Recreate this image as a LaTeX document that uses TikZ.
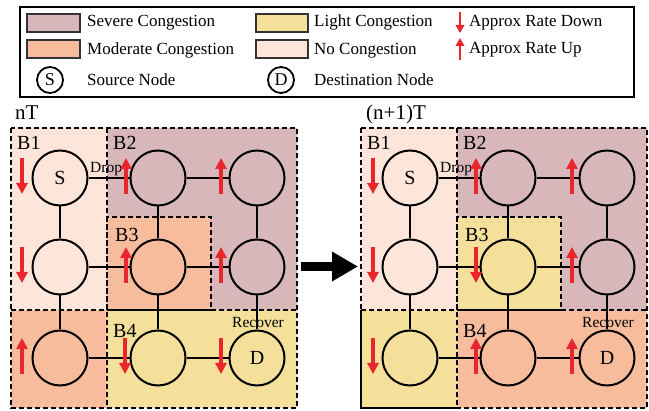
\documentclass[tikz,border=0pt]{standalone}
\usepackage{fontspec}
\setmainfont{Liberation Serif}
\usetikzlibrary{arrows.meta}
\definecolor{sev}{RGB}{215,183,185}
\definecolor{mod}{RGB}{247,188,156}
\definecolor{lig}{RGB}{244,224,154}
\definecolor{noc}{RGB}{253,229,218}
\definecolor{arr}{RGB}{232,38,43}
\tikzset{
  gnode/.style={circle,draw=black,line width=2pt,minimum size=55pt,inner sep=0pt,font=\fontsize{20}{22}\selectfont},
  lnode/.style={circle,draw=black,line width=1.8pt,minimum size=26pt,inner sep=0pt,font=\fontsize{18}{20}\selectfont},
  link/.style={line width=1.6pt},
  dsh/.style={line width=1.3pt,dash pattern=on 5pt off 3pt},
  sw/.style={draw=black!80,line width=1.5pt},
  rarr/.style={draw=arr,line width=4pt,-{Triangle[length=11pt,width=11pt]}},
  larr/.style={draw=arr,line width=2.2pt,-{Triangle[length=8pt,width=8.5pt]}},
  ltxt/.style={anchor=base west,inner sep=0pt,font=\fontsize{17}{20}\selectfont},
  blab/.style={anchor=base west,inner sep=0pt,font=\fontsize{20}{22}\selectfont},
  stxt/.style={anchor=base west,inner sep=0pt,font=\fontsize{15.5}{18}\selectfont},
}
\newcommand{\dnarr}[2]{\draw[rarr] (#1,#2-18) -- (#1,#2+18);}
\newcommand{\uparr}[2]{\draw[rarr] (#1,#2+18) -- (#1,#2-18);}
\begin{document}
\begin{tikzpicture}[x=1pt,y=-1pt]
\useasboundingbox (0,0) rectangle (649,411);
\fill[white] (0,0) rectangle (649,411);
% legend
\draw[line width=1.5pt] (20,7) rectangle (634,97);
\filldraw[fill=sev,sw] (27,14) rectangle (80,32);
\filldraw[fill=mod,sw] (27,40) rectangle (80,58);
\filldraw[fill=lig,sw] (256,14) rectangle (308,32);
\filldraw[fill=noc,sw] (256,40) rectangle (308,58);
\node[ltxt] (t1) at (87,27) {Severe Congestion};
\node[ltxt] (t2) at (87,55) {Moderate Congestion};
\node[ltxt] (t3) at (87,86) {Source Node};
\node[ltxt] (t4) at (314,27) {Light Congestion};
\node[ltxt] (t5) at (314,55) {No Congestion};
\node[ltxt] (t6) at (314,86) {Destination Node};
\node[ltxt] (t7) at (469,27) {Approx Rate Down};
\node[ltxt] (t8) at (469,54) {Approx Rate Up};
\node[lnode] (ls) at (50,80) {S};
\node[lnode] (ld) at (281,80) {D};
\coordinate (ad1) at (460,12); \coordinate (ad2) at (460,33);
\coordinate (au1) at (460,60); \coordinate (au2) at (460,38);
\draw[larr] (ad1) -- (ad2);
\draw[larr] (au1) -- (au2);
% time labels
\node[blab,font=\fontsize{21}{23}\selectfont] (nt) at (15,120) {nT};
\node[blab,font=\fontsize{21}{23}\selectfont] (n1t) at (366,120) {(n+1)T};
% ---------- left grid ----------
\fill[noc] (11,128) rectangle (107,310);
\fill[sev] (107,128) rectangle (297,310);
\fill[mod] (107,217) rectangle (211,310);
\fill[mod] (11,310) rectangle (107,408);
\fill[lig] (107,310) rectangle (297,408);
\draw[dsh] (11,128) rectangle (297,408);
\draw[dsh] (107,128) -- (107,408);
\draw[dsh] (11,310) -- (297,310);
\draw[dsh] (107,217) rectangle (211,310);
% ---------- right grid ----------
\fill[noc] (361,128) rectangle (457,310);
\fill[sev] (457,128) rectangle (647,310);
\fill[lig] (457,217) rectangle (561,310);
\fill[lig] (361,310) rectangle (457,408);
\fill[mod] (457,310) rectangle (647,408);
\draw[line width=1.3pt] (361,310) -- (361,408) -- (457,408);
\draw[dsh] (361,128) -- (361,310);
\draw[dsh] (361,128) -- (647,128) -- (647,408) -- (457,408);
\draw[dsh] (457,128) -- (457,408);
\draw[dsh] (361,310) -- (647,310);
\draw[dsh] (457,217) rectangle (561,310);
% nodes
\foreach \p/\ox in {L/0,R/350}{
  \node[gnode] (\p11) at (60+\ox,178) {S};
  \node[gnode] (\p12) at (158+\ox,178) {};
  \node[gnode] (\p13) at (257+\ox,178) {};
  \node[gnode] (\p21) at (60+\ox,267) {};
  \node[gnode] (\p22) at (158+\ox,267) {};
  \node[gnode] (\p23) at (257+\ox,267) {};
  \node[gnode] (\p31) at (60+\ox,358) {};
  \node[gnode] (\p32) at (158+\ox,358) {};
  \node[gnode] (\p33) at (257+\ox,358) {D};
  \draw[link] (\p11) -- (\p12); \draw[link] (\p12) -- (\p13);
  \draw[link] (\p21) -- (\p22); \draw[link] (\p22) -- (\p23);
  \draw[link] (\p31) -- (\p32); \draw[link] (\p32) -- (\p33);
  \draw[link] (\p11) -- (\p21); \draw[link] (\p21) -- (\p31);
  \draw[link] (\p12) -- (\p22); \draw[link] (\p22) -- (\p32);
  \draw[link] (\p13) -- (\p23); \draw[link] (\p23) -- (\p33);
  \node[blab] (\p b1) at (17+\ox,150) {B1};
  \node[blab] (\p b2) at (113+\ox,150) {B2};
  \node[blab] (\p b3) at (115+\ox,242) {B3};
  \node[blab] (\p b4) at (113+\ox,338) {B4};
  \node[stxt] (\p dr) at (90+\ox,173) {Drop};
  \node[stxt] (\p rc) at (232+\ox,328) {Recover};
}
% left grid arrows
\dnarr{22}{176} \uparr{126}{176} \uparr{221}{176}
\dnarr{22}{265} \uparr{126}{265} \uparr{221}{265}
\uparr{22}{356} \dnarr{125}{356} \dnarr{221}{356}
% right grid arrows
\dnarr{373}{176} \uparr{476}{176} \uparr{572}{176}
\dnarr{373}{265} \dnarr{476}{265} \uparr{572}{265}
\dnarr{373}{356} \uparr{476}{356} \uparr{572}{356}
% big arrow
\coordinate (ba1) at (301,266.5);
\coordinate (ba2) at (358,266.5);
\draw[line width=9pt,-{Triangle[length=26pt,width=28pt]}] (ba1) -- (ba2);
\end{tikzpicture}
\end{document}
